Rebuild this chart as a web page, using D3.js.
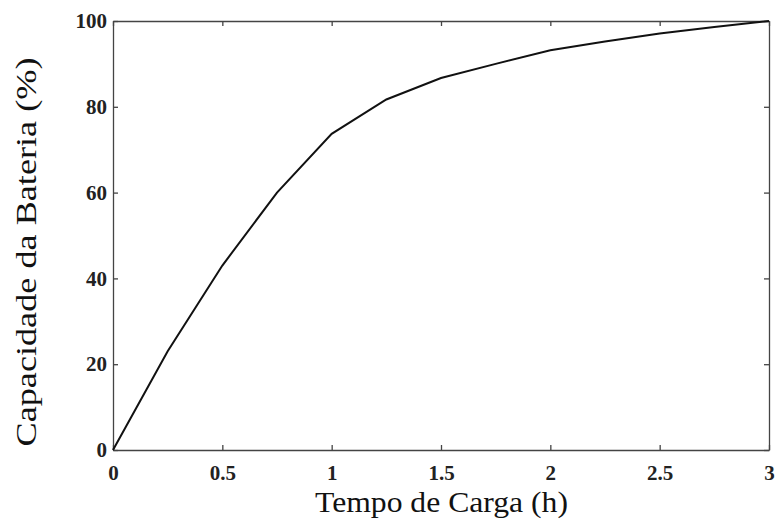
<!DOCTYPE html>
<html lang="pt">
  <head>
    <meta charset="UTF-8" />
    <title>Capacidade da Bateria</title>
    <script src="https://d3js.org/d3.v7.min.js"></script>
    <style>
      body { margin: 0; background: #fff; }
      .tick text { font-family: "Liberation Serif", "Times New Roman", serif; font-weight: bold; font-size: 21px; fill: #222; }
      .label { font-family: "Liberation Serif", "Times New Roman", serif; font-size: 29px; fill: #111; }
    </style>
  </head>
  <body>
    <svg id="chart"></svg>
    <script>
      let width = 776
      let height = 520

      // tempo de carga (h) e capacidade (%)
      let tempo = [0, 0.25, 0.5, 0.75, 1, 1.25, 1.5, 1.75, 2, 2.25, 2.5, 2.75, 3]
      let capacidade = [0, 23, 43, 60, 73.7, 81.7, 86.7, 90, 93.2, 95.2, 97.1, 98.6, 100]
      let xTicks = [0, 0.5, 1, 1.5, 2, 2.5, 3]
      let yTicks = [0, 20, 40, 60, 80, 100]

      let margin = { top: 21, right: 7, bottom: 70, left: 113 }

      let svg = d3.select('#chart').attr('width', width).attr('height', height)

      let x = d3.scaleLinear().domain([0, 3]).range([margin.left, width - margin.right])
      let y = d3.scaleLinear().domain([0, 100]).range([height - margin.bottom, margin.top])

      let fmt = d => String(d)

      // bottom + left with labels, top + right mirrored without
      svg.append('g')
        .attr('transform', `translate(0,${y(0)})`)
        .call(d3.axisBottom(x).tickValues(xTicks).tickFormat(fmt).tickSizeInner(-5).tickSizeOuter(0).tickPadding(15))
      svg.append('g')
        .attr('transform', `translate(${x(0)},0)`)
        .call(d3.axisLeft(y).tickValues(yTicks).tickFormat(fmt).tickSizeInner(-5).tickSizeOuter(0).tickPadding(6))
      svg.append('g')
        .attr('transform', `translate(0,${y(100)})`)
        .call(d3.axisTop(x).tickValues(xTicks).tickFormat('').tickSizeInner(-5).tickSizeOuter(0))
      svg.append('g')
        .attr('transform', `translate(${x(3)},0)`)
        .call(d3.axisRight(y).tickValues(yTicks).tickFormat('').tickSizeInner(-5).tickSizeOuter(0))

      svg.selectAll('.domain, .tick line').attr('stroke', '#444').attr('stroke-width', 1.3)

      let line = d3.line().x((d, i) => x(tempo[i])).y(d => y(d))

      svg.append('path')
        .datum(capacidade)
        .attr('d', line)
        .attr('fill', 'none')
        .attr('stroke', '#111')
        .attr('stroke-width', 2)

      svg.append('text')
        .attr('class', 'label')
        .attr('x', 441.5)
        .attr('y', 512)
        .attr('text-anchor', 'middle')
        .attr('textLength', 253)
        .attr('lengthAdjust', 'spacingAndGlyphs')
        .text('Tempo de Carga (h)')

      svg.append('text')
        .attr('class', 'label')
        .attr('transform', 'translate(36,252) rotate(-90)')
        .attr('text-anchor', 'middle')
        .attr('textLength', 389)
        .attr('lengthAdjust', 'spacingAndGlyphs')
        .text('Capacidade da Bateria (%)')
    </script>
  </body>
</html>
